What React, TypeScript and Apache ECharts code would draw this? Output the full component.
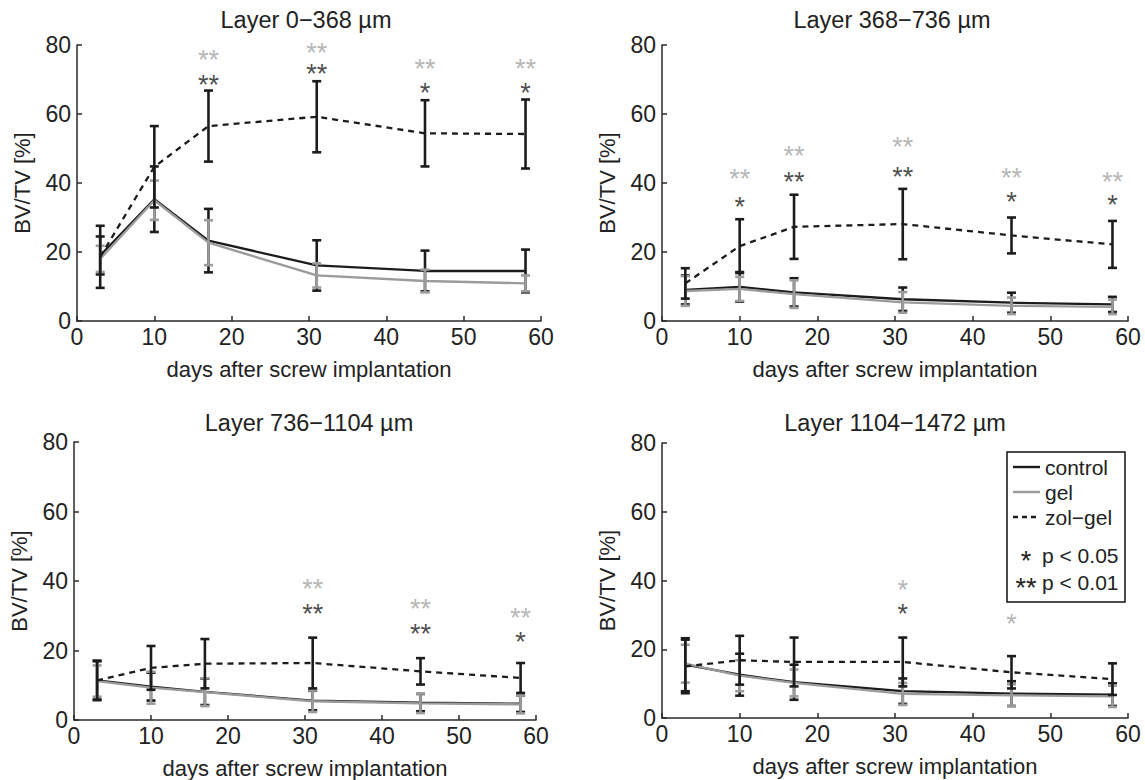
import React, { useEffect, useRef } from "react";
import * as echarts from "echarts";

// ---- data ----
const days = [3, 10, 17, 31, 45, 58];
const xTicks = [0, 10, 20, 30, 40, 50, 60];
const yTicks = [0, 20, 40, 60, 80];
const titles = ["Layer 0\u2212368 \u00b5m", "Layer 368\u2212736 \u00b5m", "Layer 736\u22121104 \u00b5m", "Layer 1104\u22121472 \u00b5m"];

// Layer 0-368
const l1ControlMean = [19.0, 35.3, 23.3, 16.1, 14.5, 14.5];
const l1ControlErr = [5.5, 9.5, 9.2, 7.3, 5.9, 6.2];
const l1GelMean = [18.0, 35.0, 22.7, 13.2, 11.6, 10.9];
const l1GelErr = [3.8, 5.7, 6.5, 3.5, 3.3, 2.3];
const l1ZolMean = [18.6, 44.7, 56.5, 59.2, 54.4, 54.2];
const l1ZolErr = [9.0, 11.8, 10.3, 10.3, 9.6, 10.0];
const l1GrayStarX = [17, 31, 45, 58];
const l1GrayStarY = [77.5, 79.5, 74.9, 74.9];
const l1GrayStarText = ["**", "**", "**", "**"];
const l1BlackStarX = [17, 31, 45, 58];
const l1BlackStarY = [70.4, 73.5, 67.9, 67.9];
const l1BlackStarText = ["**", "**", "*", "*"];

// Layer 368-736
const l2ControlMean = [9.0, 9.9, 8.3, 6.3, 5.3, 4.8];
const l2ControlErr = [4.2, 4.3, 4.1, 3.4, 2.9, 2.2];
const l2GelMean = [8.7, 9.3, 7.8, 5.4, 4.4, 4.1];
const l2GelErr = [4.3, 3.5, 4.0, 3.0, 2.4, 2.1];
const l2ZolMean = [10.9, 21.7, 27.3, 28.1, 24.8, 22.2];
const l2ZolErr = [4.4, 7.8, 9.3, 10.2, 5.2, 6.8];
const l2GrayStarX = [10, 17, 31, 45, 58];
const l2GrayStarY = [43.0, 49.8, 52.2, 43.3, 42.1];
const l2GrayStarText = ["**", "**", "**", "**", "**"];
const l2BlackStarX = [10, 17, 31, 45, 58];
const l2BlackStarY = [34.9, 42.1, 43.5, 36.5, 35.6];
const l2BlackStarText = ["*", "**", "**", "*", "*"];

// Layer 736-1104
const l3ControlMean = [11.4, 9.6, 8.1, 5.6, 5.0, 4.7];
const l3ControlErr = [5.5, 4.0, 3.8, 2.8, 2.5, 2.4];
const l3GelMean = [11.2, 9.3, 8.0, 5.4, 4.8, 4.5];
const l3GelErr = [4.5, 4.6, 4.0, 3.1, 2.8, 2.6];
const l3ZolMean = [11.4, 15.0, 16.2, 16.4, 14.0, 12.1];
const l3ZolErr = [5.7, 6.3, 7.1, 7.3, 3.8, 4.3];
const l3GrayStarX = [31, 45, 58];
const l3GrayStarY = [39.6, 33.7, 31.3];
const l3GrayStarText = ["**", "**", "**"];
const l3BlackStarX = [31, 45, 58];
const l3BlackStarY = [32.4, 26.5, 24.4];
const l3BlackStarText = ["**", "**", "*"];

// Layer 1104-1472
const l4ControlMean = [15.5, 12.6, 10.4, 7.8, 7.1, 6.8];
const l4ControlErr = [7.7, 6.1, 5.1, 3.7, 3.6, 3.3];
const l4GelMean = [15.8, 12.3, 10.2, 7.0, 6.6, 6.3];
const l4GelErr = [5.5, 4.5, 3.9, 3.2, 3.2, 3.1];
const l4ZolMean = [15.0, 16.8, 16.3, 16.3, 13.3, 11.3];
const l4ZolErr = [7.8, 7.1, 7.1, 7.1, 4.7, 4.6];
const l4GrayStarX = [31, 45];
const l4GrayStarY = [39.2, 29.2];
const l4GrayStarText = ["*", "*"];
const l4BlackStarX = [31];
const l4BlackStarY = [32.1];
const l4BlackStarText = ["*"];

const legendNames = ["control", "gel", "zol\u2212gel"];
const legendStars = ["*", "**"];
const legendP = ["p < 0.05", "p < 0.01"];

// ---- styling ----
const FONT = "'Liberation Sans', Arial, Helvetica, sans-serif";
const BLACK = "#1c1c1c";
const GRAY = "#9b9b9b";
const STAR_GRAY = "#a3a3a3";
const AXIS = "#2a2a2a";
const STAR_SIZE = 27;

const panels = [
  { cm: l1ControlMean, ce: l1ControlErr, gm: l1GelMean, ge: l1GelErr, zm: l1ZolMean, ze: l1ZolErr, gsx: l1GrayStarX, gsy: l1GrayStarY, gst: l1GrayStarText, bsx: l1BlackStarX, bsy: l1BlackStarY, bst: l1BlackStarText },
  { cm: l2ControlMean, ce: l2ControlErr, gm: l2GelMean, ge: l2GelErr, zm: l2ZolMean, ze: l2ZolErr, gsx: l2GrayStarX, gsy: l2GrayStarY, gst: l2GrayStarText, bsx: l2BlackStarX, bsy: l2BlackStarY, bst: l2BlackStarText },
  { cm: l3ControlMean, ce: l3ControlErr, gm: l3GelMean, ge: l3GelErr, zm: l3ZolMean, ze: l3ZolErr, gsx: l3GrayStarX, gsy: l3GrayStarY, gst: l3GrayStarText, bsx: l3BlackStarX, bsy: l3BlackStarY, bst: l3BlackStarText },
  { cm: l4ControlMean, ce: l4ControlErr, gm: l4GelMean, ge: l4GelErr, zm: l4ZolMean, ze: l4ZolErr, gsx: l4GrayStarX, gsy: l4GrayStarY, gst: l4GrayStarText, bsx: l4BlackStarX, bsy: l4BlackStarY, bst: l4BlackStarText },
];

const grids = [
  { left: 77, top: 45, width: 464, height: 276 },
  { left: 662, top: 45, width: 466, height: 276 },
  { left: 74, top: 442, width: 462, height: 279 },
  { left: 662, top: 443, width: 466, height: 275 },
];

function errSeries(i: number, mean: number[], err: number[], color: string, z: number) {
  return {
    type: "custom",
    coordinateSystem: "cartesian2d",
    xAxisIndex: i,
    yAxisIndex: i,
    z,
    silent: true,
    encode: { x: 0, y: 1 },
    data: days.map((d, j) => [d, mean[j], err[j]]),
    renderItem: (params: any, api: any) => {
      const x = api.value(0);
      const m = api.value(1);
      const e = api.value(2);
      const top = api.coord([x, m + e]);
      const bot = api.coord([x, m - e]);
      const hw = 4.5;
      const st = { stroke: color, lineWidth: 2.6 };
      return {
        type: "group",
        children: [
          { type: "line", shape: { x1: top[0], y1: top[1], x2: bot[0], y2: bot[1] }, style: st },
          { type: "line", shape: { x1: top[0] - hw, y1: top[1], x2: top[0] + hw, y2: top[1] }, style: st },
          { type: "line", shape: { x1: bot[0] - hw, y1: bot[1], x2: bot[0] + hw, y2: bot[1] }, style: st },
        ],
      };
    },
  };
}

function lineSeries(i: number, name: string, mean: number[], color: string, dashed: boolean, z: number) {
  return {
    type: "line",
    name,
    xAxisIndex: i,
    yAxisIndex: i,
    z,
    silent: true,
    symbol: "none",
    data: days.map((d, j) => [d, mean[j]]),
    lineStyle: { color, width: 2.3, type: dashed ? [6, 5] : "solid" },
  };
}

function starSeries(i: number, xs: number[], ys: number[], texts: string[], color: string) {
  return {
    type: "scatter",
    xAxisIndex: i,
    yAxisIndex: i,
    z: 10,
    silent: true,
    symbolSize: 1,
    itemStyle: { color: "rgba(0,0,0,0)" },
    data: xs.map((x, j) => [x, ys[j], texts[j]]),
    label: {
      show: true,
      position: "inside",
      offset: [0, 6.5],
      formatter: (p: any) => p.value[2],
      color,
      fontSize: STAR_SIZE,
      lineHeight: 12,
      fontFamily: FONT,
    },
  };
}

function buildOption() {
  const series: any[] = [];
  panels.forEach((p, i) => {
    series.push(lineSeries(i, "control", p.cm, BLACK, false, 2));
    series.push(errSeries(i, p.cm, p.ce, BLACK, 2));
    series.push(lineSeries(i, "gel", p.gm, GRAY, false, 3));
    series.push(errSeries(i, p.gm, p.ge, GRAY, 3));
    series.push(lineSeries(i, "zol-gel", p.zm, BLACK, true, 4));
    series.push(errSeries(i, p.zm, p.ze, BLACK, 4));
    series.push(starSeries(i, p.gsx, p.gsy, p.gst, STAR_GRAY));
    series.push(starSeries(i, p.bsx, p.bsy, p.bst, BLACK));
  });

  const axisCommon = {
    axisLine: { show: true, lineStyle: { color: AXIS, width: 1.5 } },
    axisTick: { show: true, inside: true, length: 5, lineStyle: { color: AXIS, width: 1.5 } },
    splitLine: { show: false },
    nameTextStyle: { fontSize: 22, color: "#222", fontFamily: FONT },
  };

  const xAxis = grids.map((_, i) => ({
    type: "value",
    gridIndex: i,
    min: xTicks[0],
    max: xTicks[xTicks.length - 1],
    interval: xTicks[1] - xTicks[0],
    name: "days after screw implantation",
    nameLocation: "middle",
    nameGap: 37,
    ...axisCommon,
    axisLabel: { fontSize: 23, color: "#222", fontFamily: FONT, margin: 4 },
  }));
  const yAxis = grids.map((_, i) => ({
    type: "value",
    gridIndex: i,
    min: yTicks[0],
    max: yTicks[yTicks.length - 1],
    interval: yTicks[1] - yTicks[0],
    name: "BV/TV [%]",
    nameLocation: "middle",
    nameGap: 44,
    ...axisCommon,
    axisLabel: { fontSize: 23, color: "#222", fontFamily: FONT, margin: 6 },
  }));

  const graphic: any[] = [];
  const titleCenters = [
    [306, 20],
    [892, 20],
    [309, 423],
    [895, 423],
  ];
  titles.forEach((t, i) => {
    graphic.push({
      type: "text",
      x: titleCenters[i][0],
      y: titleCenters[i][1],
      z: 100,
      style: { text: t, fontSize: 23.5, fill: "#222", fontFamily: FONT, align: "center", verticalAlign: "middle" },
    });
  });

  // legend box
  const lx = 1007;
  const ly = 452;
  graphic.push({
    type: "rect",
    z: 100,
    shape: { x: lx, y: ly, width: 118, height: 150 },
    style: { fill: "#fff", stroke: "#111", lineWidth: 1.5 },
  });
  const legendColors = [BLACK, GRAY, BLACK];
  const legendDash: any[] = [null, null, [5, 4]];
  const legendY = [467, 492, 517];
  legendNames.forEach((n, k) => {
    graphic.push({
      type: "line",
      z: 101,
      shape: { x1: lx + 6, y1: legendY[k], x2: lx + 33, y2: legendY[k] },
      style: { stroke: legendColors[k], lineWidth: 2.4, lineDash: legendDash[k] },
    });
    graphic.push({
      type: "text",
      z: 101,
      x: lx + 38,
      y: legendY[k],
      style: { text: n, fontSize: 21, fill: "#222", fontFamily: FONT, align: "left", verticalAlign: "middle" },
    });
  });
  const pY = [555, 582];
  legendStars.forEach((s, k) => {
    graphic.push({
      type: "text",
      z: 101,
      x: lx + 19,
      y: pY[k] + 6,
      style: { text: s, fontSize: STAR_SIZE, lineHeight: 12, fill: "#222", fontFamily: FONT, align: "center", verticalAlign: "middle" },
    });
    graphic.push({
      type: "text",
      z: 101,
      x: lx + 35,
      y: pY[k],
      style: { text: legendP[k], fontSize: 21, fill: "#222", fontFamily: FONT, align: "left", verticalAlign: "middle" },
    });
  });

  return {
    animation: false,
    backgroundColor: "#ffffff",
    textStyle: { fontFamily: FONT },
    grid: grids.map((g) => ({ ...g, containLabel: false })),
    xAxis,
    yAxis,
    series,
    graphic,
  };
}

export default function App() {
  const ref = useRef<HTMLDivElement>(null);
  useEffect(() => {
    document.body.style.margin = "0";
    if (!ref.current) return;
    const chart = echarts.init(ref.current, null, { renderer: "svg" });
    chart.setOption(buildOption() as any);
    return () => chart.dispose();
  }, []);
  return <div ref={ref} style={{ width: 1145, height: 780 }} />;
}
